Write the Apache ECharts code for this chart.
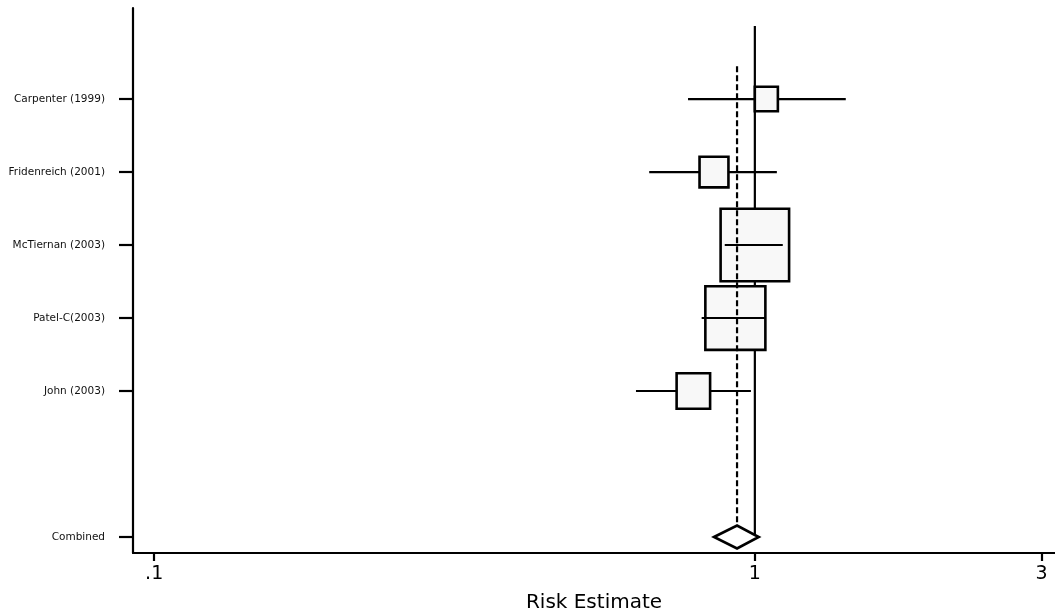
<!DOCTYPE html>
<html><head><meta charset="utf-8">
<script src="https://cdn.jsdelivr.net/npm/echarts@6/dist/echarts.min.js"></script>
<style>html,body{margin:0;padding:0;background:#fff}#c{width:1055px;height:609px}</style>
</head><body><div id="c"></div>
<script>
// ---- data ----
const studies = ['Carpenter (1999)', 'Fridenreich (2001)', 'McTiernan (2003)', 'Patel-C(2003)', 'John (2003)'];
const studyRows = [7, 6, 5, 4, 3];
const estimates = [1.045, 0.855, 1.0, 0.928, 0.79];
const lowerCI = [0.774, 0.667, 0.891, 0.816, 0.634];
const upperCI = [1.417, 1.088, 1.113, 1.043, 0.985];
const weights = [5.5, 8.3, 42.4, 32.9, 10.9];
const pooledLabel = 'Combined';
const pooledRow = 1;
const pooledEstimate = [0.934];
const pooledLower = [0.855];
const pooledUpper = [1.015];
const xTickValues = [0.1, 1, 3];
const xTickLabels = ['.1', '1', '3'];
const nullValue = 1;
const xTitle = 'Risk Estimate';

// ---- chart ----
const lg = v => Math.log10(v);
const rowLabels = {};
studies.forEach((s, i) => rowLabels[studyRows[i]] = s);
rowLabels[pooledRow] = pooledLabel;
const rowValues = studyRows.concat([pooledRow]);
const xTickLog = xTickValues.map(lg);

const chart = echarts.init(document.getElementById('c'), null, {renderer: 'canvas'});
const FONT = 'DejaVu Sans';
const LW = 2.2;

chart.setOption({
  animation: false,
  backgroundColor: '#fff',
  grid: {left: 133, right: 0, top: 8, bottom: 56, containLabel: false, outerBoundsMode: 'none'},
  xAxis: {
    type: 'value',
    min: lg(0.0922), max: lg(3.16),
    name: xTitle, nameLocation: 'middle', nameGap: 40,
    nameTextStyle: {fontFamily: FONT, fontSize: 20, color: '#000'},
    axisLine: {show: true, onZero: false, lineStyle: {color: '#000', width: LW}},
    axisTick: {show: true, length: 8, lineStyle: {color: '#000', width: LW}, customValues: xTickLog},
    axisLabel: {
      fontFamily: FONT, fontSize: 19, color: '#000', margin: 12,
      customValues: xTickLog,
      formatter: v => {
        let best = 0;
        xTickLog.forEach((t, i) => { if (Math.abs(t - v) < Math.abs(xTickLog[best] - v)) best = i; });
        return xTickLabels[best];
      }
    },
    splitLine: {show: false}
  },
  yAxis: {
    type: 'value',
    min: 0.781, max: 8.247,
    axisLine: {show: true, onZero: false, lineStyle: {color: '#000', width: LW}},
    axisTick: {show: true, length: 14, lineStyle: {color: '#000', width: LW}, customValues: rowValues},
    axisLabel: {
      fontFamily: FONT, fontSize: 10.5, color: '#111', margin: 28,
      customValues: rowValues,
      formatter: v => rowLabels[Math.round(v)] || ''
    },
    splitLine: {show: false}
  },
  series: [
    {
      // null line at RR = 1
      type: 'custom', z: 1, silent: true,
      data: [[lg(nullValue), 8, pooledRow]],
      renderItem(params, api) {
        const a = api.coord([api.value(0), api.value(1)]);
        const b = api.coord([api.value(0), api.value(2)]);
        return {type: 'line', shape: {x1: a[0], y1: a[1], x2: b[0], y2: b[1]},
          style: {stroke: '#000', lineWidth: LW}};
      }
    },
    {
      type: 'custom', z: 3, silent: true,
      data: studies.map((s, i) => [lg(estimates[i]), studyRows[i], lg(lowerCI[i]), lg(upperCI[i]), weights[i]]),
      encode: {x: [0, 2, 3], y: 1},
      renderItem(params, api) {
        const c = api.coord([api.value(0), api.value(1)]);
        const lo = api.coord([api.value(2), api.value(1)]);
        const hi = api.coord([api.value(3), api.value(1)]);
        const side = 10.9 * Math.sqrt(api.value(4)) - 2.5;
        const h = side * 1.06;
        const left = c[0] - side / 2, right = c[0] + side / 2;
        const onTop = lo[0] > left - 6 || hi[0] < right + 6;
        const ci = {type: 'line', shape: {x1: lo[0], y1: c[1], x2: hi[0], y2: c[1]},
          style: {stroke: '#000', lineWidth: LW}};
        const box = {type: 'rect', shape: {x: left, y: c[1] - h / 2, width: side, height: h},
          style: {fill: '#f8f8f8', stroke: '#000', lineWidth: 2.6}};
        const children = [ci, box];
        if (onTop) children.push(Object.assign({}, ci));
        return {type: 'group', children};
      }
    },
    {
      type: 'custom', z: 5, silent: true,
      data: pooledEstimate.map((e, i) => [lg(e), pooledRow, lg(pooledLower[i]), lg(pooledUpper[i]), 7.45]),
      encode: {x: [0, 2, 3], y: 1},
      renderItem(params, api) {
        const c = api.coord([api.value(0), api.value(1)]);
        const lo = api.coord([api.value(2), api.value(1)]);
        const hi = api.coord([api.value(3), api.value(1)]);
        const top = api.coord([api.value(0), api.value(4)]);
        const hh = 11.5;
        return {type: 'group', children: [
          {type: 'line', shape: {x1: c[0], y1: top[1], x2: c[0], y2: c[1] - hh},
            style: {stroke: '#000', lineWidth: LW, lineDash: [6, 3]}},
          {type: 'polygon', shape: {points: [[lo[0], c[1]], [c[0], c[1] - hh], [hi[0], c[1]], [c[0], c[1] + hh]]},
            style: {fill: '#fff', stroke: '#000', lineWidth: 2.6}}
        ]};
      }
    }
  ]
});
</script>
</body></html>
